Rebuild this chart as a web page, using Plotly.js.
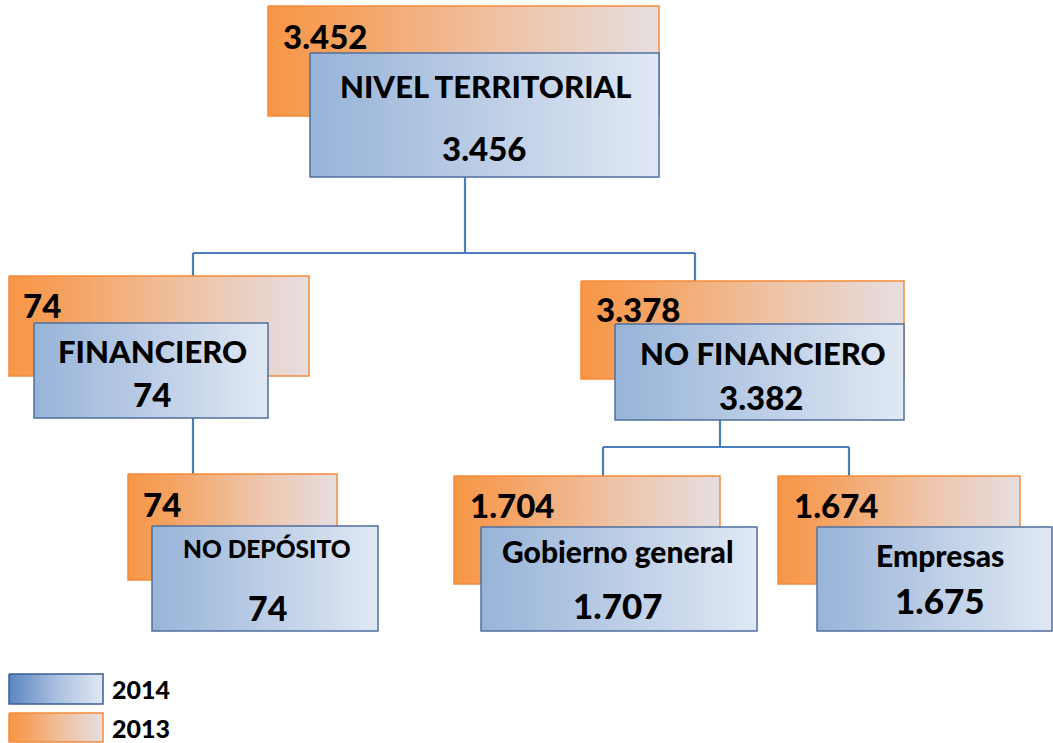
<!DOCTYPE html>
<html><head><meta charset="utf-8">
<script src="https://cdn.plot.ly/plotly-3.0.1.min.js"></script>
<style>html,body{margin:0;padding:0;background:#fff}#chart{width:1053px;height:743px}</style>
</head><body><div id="chart"></div>
<script>
// ---- data ----
const nodes = ['NIVEL TERRITORIAL','FINANCIERO','NO FINANCIERO','NO DEPÓSITO','Gobierno general','Empresas'];
const val2014 = [3456, 74, 3382, 74, 1707, 1675];
const val2013 = [3452, 74, 3378, 74, 1704, 1674];
const parents = [-1, 0, 0, 1, 2, 2];
const years = ['2014','2013'];

// ---- layout geometry (pixel coordinates, y downwards) ----
const orangeBox = [[268,659,6,116],[9,309,276,376],[581,904,281,379],[128,337,474,580],[454,720,476,584],[778,1020,476,584]];
const blueBox   = [[310,659,53,177],[34,268,323,418],[615,904,324,420],[152,378,526,631],[481,757,527,631],[817,1052,527,631]];
const labelPos  = [[485,86],[152,351],[763,353],[267,548],[618,551],[940,555]];
const valuePos  = [[484,148],[152,394],[761,397],[267,607],[618,605],[940,600]];
const oValPos   = [[281,36],[21,305],[594,309],[141,504],[468,505],[792,505]];
const labelSize = [31,31,31,24.5,30,30];
const valueSize = [33,33,33,34,35,35];
const oValSize  = 33;
const busY      = [253, 0, 447]; // horizontal connector per parent

const fmt = v => String(v).replace(/\B(?=(\d{3})+(?!\d))/g, '.');
const FONT = 'Lato, "DejaVu Sans", sans-serif';
const WEIGHT = 900;
const orangeScale = [[0,'#f79646'],[0.2,'#f5a261'],[0.6,'#eec3a6'],[1,'#e6dee1']];
const blueScale = [[0,'#97b4d8'],[0.5,'#bccde6'],[1,'#e0e8f4']];

function boxTrace(b, scale, line){
  return {x:[b[0],b[1],b[1],b[0],b[0]], y:[b[2],b[2],b[3],b[3],b[2]], mode:'lines', fill:'toself',
    fillgradient:{type:'horizontal', colorscale:scale}, line:{color:line, width:1.5},
    hoverinfo:'skip', showlegend:false};
}

const traces = [];
const annotations = [];
const shapes = [];

// connectors
const children = {};
parents.forEach((p,i)=>{ if(p>=0){ (children[p]=children[p]||[]).push(i);} });
Object.keys(children).forEach(pk=>{
  const p = +pk, kids = children[p];
  const pb = blueBox[p];
  const px = p===0 ? 465 : (p===1 ? 193 : 720);
  const lineStyle = {color:'#4a7ebb', width:2.2};
  if(kids.length===1){
    const k = kids[0];
    shapes.push({type:'line', xref:'x', yref:'y', x0:px, x1:px, y0:pb[3], y1:orangeBox[k][2], line:lineStyle, layer:'below'});
  } else {
    const by = busY[p];
    shapes.push({type:'line', xref:'x', yref:'y', x0:px, x1:px, y0:pb[3], y1:by, line:lineStyle, layer:'below'});
    const kx = kids.map(k => p===0 ? (k===1?193:695) : (k===4?603:849));
    shapes.push({type:'line', xref:'x', yref:'y', x0:Math.min(...kx), x1:Math.max(...kx), y0:by, y1:by, line:lineStyle, layer:'below'});
    kids.forEach((k,j)=>{
      shapes.push({type:'line', xref:'x', yref:'y', x0:kx[j], x1:kx[j], y0:by, y1:orangeBox[k][2], line:lineStyle, layer:'below'});
    });
  }
});

nodes.forEach((n,i)=>{
  traces.push(boxTrace(orangeBox[i], orangeScale, '#f58a3a'));
  traces.push(boxTrace(blueBox[i], blueScale, '#4f6f9f'));
  annotations.push({x:oValPos[i][0], y:oValPos[i][1], xref:'x', yref:'y', xanchor:'left', yanchor:'middle', showarrow:false,
    text:fmt(val2013[i]), font:{family:FONT, size:oValSize, weight:WEIGHT, color:'#000'}});
  annotations.push({x:labelPos[i][0], y:labelPos[i][1], xref:'x', yref:'y', xanchor:'center', yanchor:'middle', showarrow:false,
    text:n, font:{family:FONT, size:labelSize[i], weight:WEIGHT, color:'#000'}});
  annotations.push({x:valuePos[i][0], y:valuePos[i][1], xref:'x', yref:'y', xanchor:'center', yanchor:'middle', showarrow:false,
    text:fmt(val2014[i]), font:{family:FONT, size:valueSize[i], weight:WEIGHT, color:'#000'}});
});

// legend
const legBoxes = [[9,103,674,704],[9,103,713,742]];
const legScales = [[[0,'#5a86c0'],[0.5,'#a9bfdf'],[1,'#e0e8f4']], orangeScale];
const legLines = ['#3a5f95','#f58a3a'];
years.forEach((yr,i)=>{
  const b = legBoxes[i];
  traces.push(boxTrace(b, legScales[i], legLines[i]));
  annotations.push({x:110, y:(b[2]+b[3])/2, xref:'x', yref:'y', xanchor:'left', yanchor:'middle', showarrow:false,
    text:yr, font:{family:FONT, size:25, weight:WEIGHT, color:'#000'}});
});

const layout = {
  width:1053, height:743, margin:{l:0,r:0,t:0,b:0},
  paper_bgcolor:'#fff', plot_bgcolor:'#fff',
  xaxis:{range:[0,1053], visible:false, fixedrange:true},
  yaxis:{range:[743,0], visible:false, fixedrange:true},
  shapes, annotations, showlegend:false
};
Plotly.newPlot('chart', traces, layout, {staticPlot:true, displayModeBar:false});
</script></body></html>
